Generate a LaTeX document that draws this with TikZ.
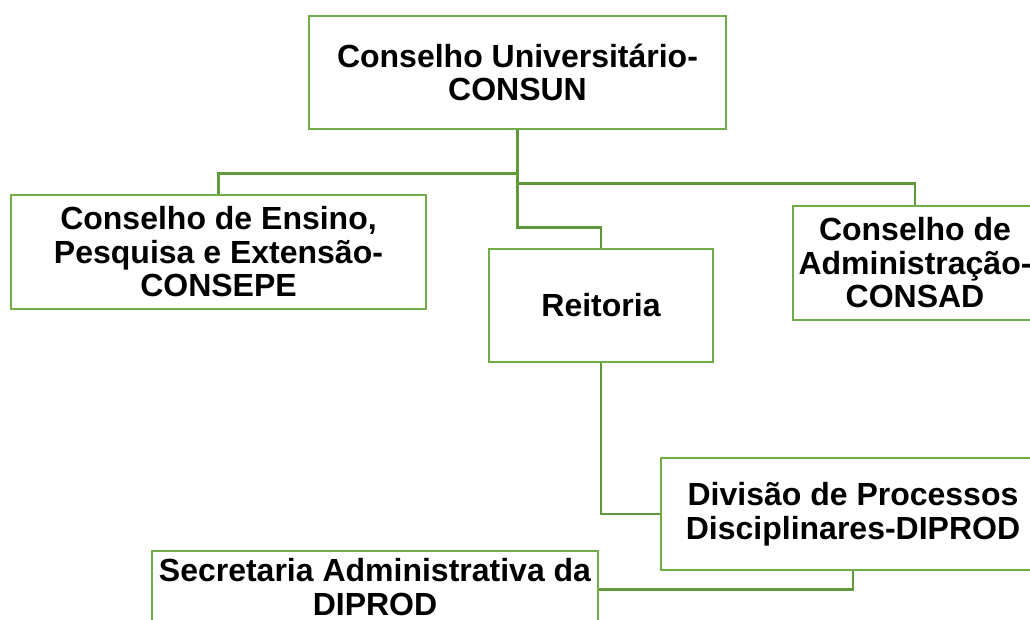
\documentclass[tikz,border=0pt]{standalone}
\usepackage{fontspec}
\setmainfont{Liberation Sans}
\definecolor{boxgreen}{HTML}{70AD47}
\definecolor{linkgreen}{HTML}{5E9A3A}
\tikzset{
  orgbox/.style={draw=boxgreen, line width=2.8pt, fill=white, align=center,
    inner sep=0pt, font=\fontsize{32}{33.5}\selectfont\bfseries},
  link/.style={draw=linkgreen, line width=2.8pt}
}

\begin{document}
\begin{tikzpicture}[x=1pt,y=-1pt]
\useasboundingbox (0,0) rectangle (1030,619);
\clip (0,0) rectangle (1030,619);
\fill[white] (0,0) rectangle (1030,619);
% boxes
\node[orgbox, minimum width=417, minimum height=113] (consun) at (517.5,72.5) {Conselho Universitário-\\CONSUN};
\node[orgbox, minimum width=415, minimum height=114] (consepe) at (218.5,252) {Conselho de Ensino,\\Pesquisa e Extensão-\\CONSEPE};
\node[orgbox, minimum width=224, minimum height=113] (reitoria) at (601,305.5) {Reitoria};
\node[orgbox, minimum width=244, minimum height=114] (consad) at (915,263) {Conselho de\\Administração-\\CONSAD};
\node[orgbox, minimum width=384, minimum height=112] (diprod) at (853,514) {Divisão de Processos\\Disciplinares-DIPROD};
\node[orgbox, minimum width=446, minimum height=72] (secdiprod) at (375,587) {Secretaria Administrativa da\\DIPROD};
% connectors
\draw[link] (consun.south) -- ++(0,43) -| (consepe.north);
\draw[link] (consun.south) -- ++(0,53) -| (consad.north);
\draw[link] (consun.south) -- ++(0,97) -| (reitoria.north);
\draw[link] (reitoria.south) |- (diprod.west);
\draw[link] (diprod.south) -- ++(0,18) coordinate (j) -- (j -| secdiprod.east);
\end{tikzpicture}
\end{document}
